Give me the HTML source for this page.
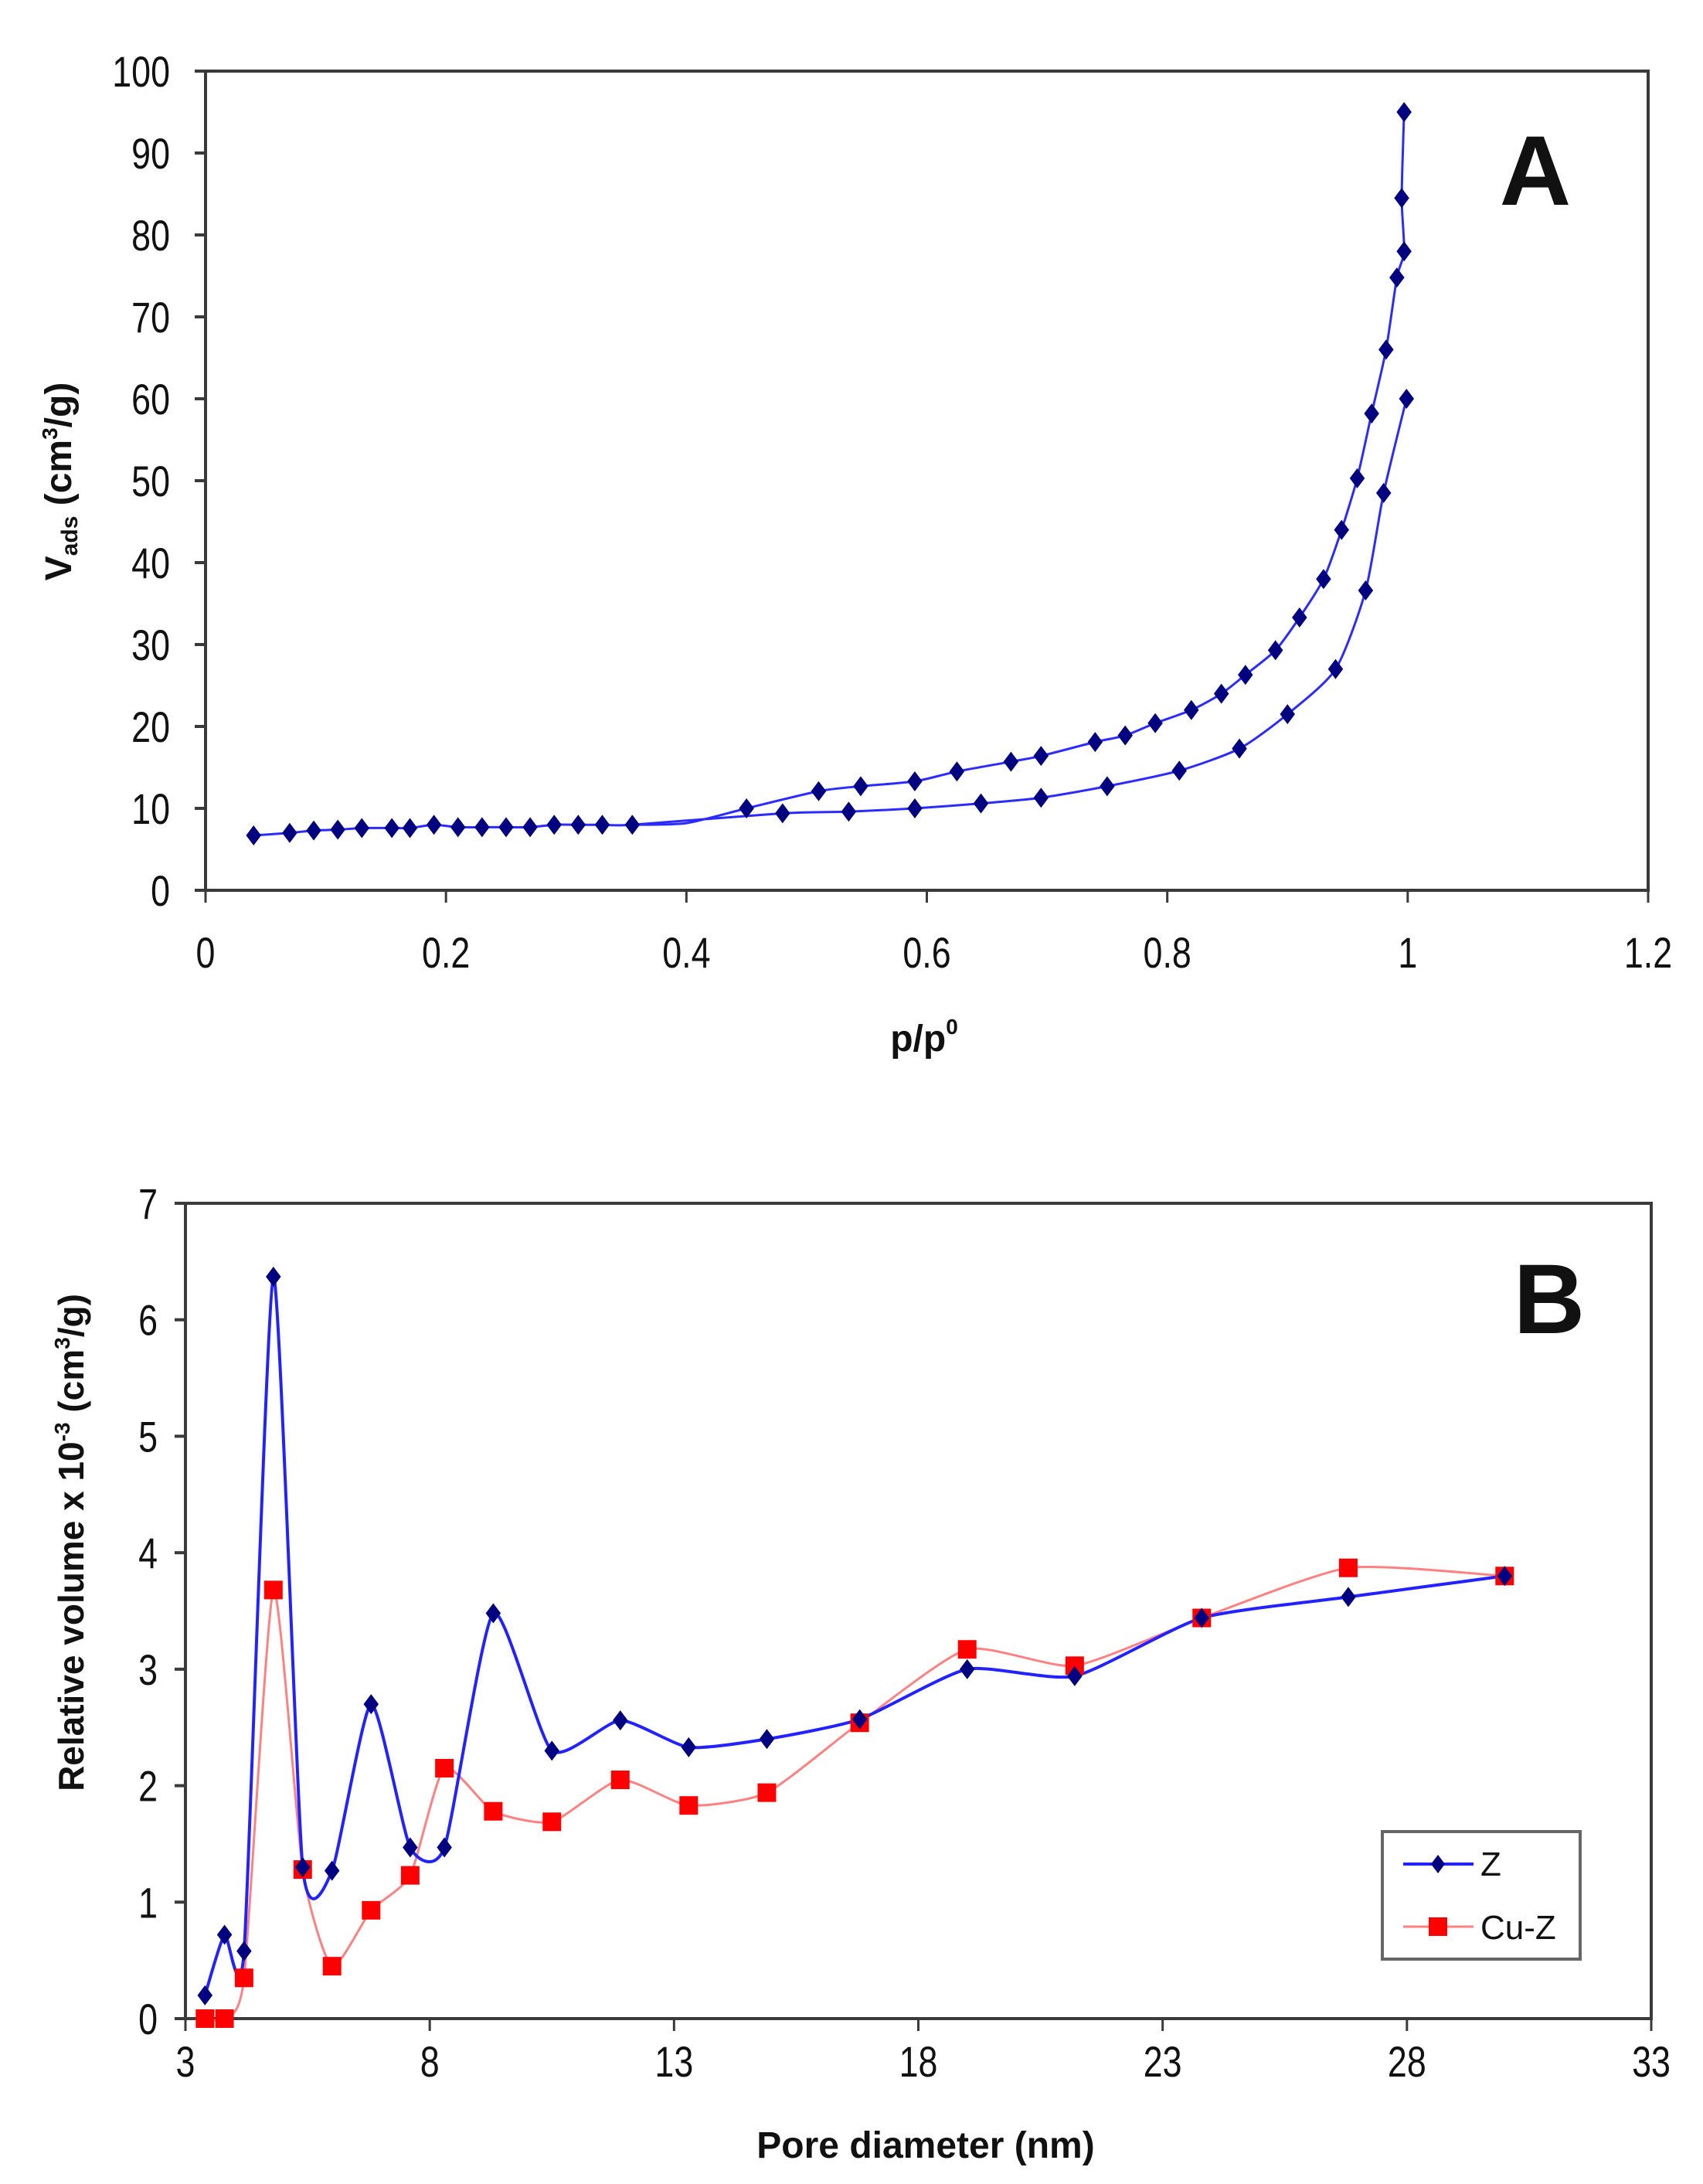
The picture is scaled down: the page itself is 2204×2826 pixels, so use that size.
<!DOCTYPE html>
<html><head><meta charset="utf-8">
<style>
html,body{margin:0;padding:0;background:#fff;}
svg{display:block;}
text{font-family:"Liberation Sans",sans-serif;fill:#111;}
</style></head>
<body>
<svg id="svg" width="2204" height="2826" viewBox="0 0 2204 2826" xmlns="http://www.w3.org/2000/svg">
<rect width="2204" height="2826" fill="#fff"/>
<g id="chartA"></g>
<g id="chartB"></g>
</svg>
<script>
// ---- Chart A data ----
const adsX = [0.04,0.07,0.09,0.11,0.13,0.155,0.17,0.19,0.21,0.23,0.25,0.27,0.29,0.31,0.33,0.355,0.48,0.535,0.59,0.645,0.695,0.75,0.81,0.86,0.90,0.94,0.965,0.98,0.999];
const adsY = [6.7,7.0,7.3,7.4,7.6,7.6,7.6,8.0,7.7,7.7,7.7,7.7,8.0,8.0,8.0,8.0,9.4,9.6,10.0,10.6,11.3,12.7,14.6,17.3,21.5,27.0,36.6,48.5,60.0];
const desX = [0.997,0.995,0.997,0.991,0.982,0.97,0.958,0.945,0.93,0.91,0.89,0.865,0.845,0.82,0.79,0.765,0.74,0.695,0.67,0.625,0.59,0.545,0.51,0.45];
const desY = [95,84.5,78,74.8,66,58.2,50.3,44,38,33.3,29.3,26.3,24,22,20.4,18.9,18.1,16.4,15.7,14.5,13.3,12.7,12.1,10.0];
const aXTicks = ["0","0.2","0.4","0.6","0.8","1","1.2"];
const aYTicks = ["0","10","20","30","40","50","60","70","80","90","100"];
// ---- Chart B data ----
const poreX = [3.4,3.8,4.2,4.8,5.4,6.0,6.8,7.6,8.3,9.3,10.5,11.9,13.3,14.9,16.8,19.0,21.2,23.8,26.8,30.0];
const zVals = [0.2,0.72,0.58,6.37,1.3,1.27,2.7,1.47,1.47,3.48,2.3,2.56,2.33,2.4,2.57,3.0,2.94,3.44,3.62,3.8];
const cuVals = [0,0,0.35,3.68,1.28,0.45,0.93,1.23,2.15,1.78,1.69,2.05,1.83,1.94,2.54,3.17,3.03,3.44,3.87,3.8];
const bXTicks = [3,8,13,18,23,28,33];
const bYTicks = [0,1,2,3,4,5,6,7];

const NS="http://www.w3.org/2000/svg";
function mk(parent,tag,attrs,txt){const e=document.createElementNS(NS,tag);for(const k in attrs)e.setAttribute(k,attrs[k]);if(txt!==undefined)e.textContent=txt;parent.appendChild(e);return e;}
function smooth(pts,ten){const t=(ten===undefined?0.5:ten)/3;let d="M"+pts[0][0]+","+pts[0][1];for(let i=0;i<pts.length-1;i++){const p0=pts[Math.max(0,i-1)],p1=pts[i],p2=pts[i+1],p3=pts[Math.min(pts.length-1,i+2)];d+=" C"+(p1[0]+(p2[0]-p0[0])*t)+","+(p1[1]+(p2[1]-p0[1])*t)+" "+(p2[0]-(p3[0]-p1[0])*t)+","+(p2[1]-(p3[1]-p1[1])*t)+" "+p2[0]+","+p2[1];}return d;}
function narrowText(g,x,y,s,size,anchor,bold){const t=mk(g,"text",{transform:"translate("+x+","+y+") scale(0.8,1)","font-size":size,"text-anchor":anchor,"font-weight":bold?"bold":"normal"},s);return t;}
function diamond(g,x,y,r){return mk(g,"path",{d:"M"+x+","+(y-r)+" L"+(x+r*0.75)+","+y+" L"+x+","+(y+r)+" L"+(x-r*0.75)+","+y+"Z",fill:"#000080"});}

// ---- Chart A ----
(function(){
const g=document.getElementById("chartA");
const L=266,R=2133,T=92,B=1152;
const sx=v=>L+(v-0)/(1.2)*(R-L), sy=v=>B-v/100*(B-T);
const frame=mk(g,"rect",{x:L,y:T,width:R-L,height:B-T,fill:"none",stroke:"#3a3a3a","stroke-width":4});


aYTicks.forEach(s=>{const v=+s;const y=sy(v);mk(g,"line",{x1:L-14,x2:L,y1:y,y2:y,stroke:"#3a3a3a","stroke-width":4});
 const t=narrowText(g,220,y+20,s,56,"end");
 
 });
aXTicks.forEach(s=>{const v=+s;const x=sx(v);mk(g,"line",{x1:x,x2:x,y1:B,y2:B+16,stroke:"#3a3a3a","stroke-width":3});
 const t=narrowText(g,x,1252,s,56,"middle");
 
 });
const ads=adsX.map((x,i)=>[sx(x),sy(adsY[i])]);
const des=desX.map((x,i)=>[sx(x),sy(desY[i])]);
const join=[...des,[sx(0.4),sy(8.2)],[sx(0.355),sy(8.0)]];
const l1=mk(g,"path",{d:smooth(ads,0.35),fill:"none",stroke:"#2b2bff","stroke-width":3});


const l2=mk(g,"path",{d:smooth(join,0.35),fill:"none",stroke:"#2b2bff","stroke-width":3});


ads.forEach(p=>{const m=diamond(g,p[0],p[1],13);});
des.forEach(p=>{const m=diamond(g,p[0],p[1],13);});
const yt=mk(g,"text",{transform:"translate(92,623) rotate(-90)","font-size":48,"font-weight":"bold","text-anchor":"middle"});


yt.innerHTML='V<tspan font-size="30" dy="8">ads</tspan><tspan dy="-8"> (cm</tspan><tspan font-size="28" dy="-18">3</tspan><tspan dy="18">/g)</tspan>';
const xt=mk(g,"text",{x:1196,y:1360,"font-size":48,"font-weight":"bold","text-anchor":"middle"});


xt.innerHTML='p/p<tspan font-size="28" dy="-22">0</tspan>';
const lab=mk(g,"text",{x:1987,y:265,"font-size":128,"font-weight":"bold","text-anchor":"middle"},"A");


})();

// ---- Chart B ----
(function(){
const g=document.getElementById("chartB");
const L=240,R=2137,T=1557,B=2612;
const sx=v=>L+(v-3)/30*(R-L), sy=v=>B-v/7*(B-T);
const frame=mk(g,"rect",{x:L,y:T,width:R-L,height:B-T,fill:"none",stroke:"#3a3a3a","stroke-width":4});


bYTicks.forEach(v=>{const y=sy(v);mk(g,"line",{x1:L-14,x2:L,y1:y,y2:y,stroke:"#3a3a3a","stroke-width":4});
 const t=narrowText(g,204,y+20,String(v),56,"end");
 
 });
bXTicks.forEach(v=>{const x=sx(v);mk(g,"line",{x1:x,x2:x,y1:B,y2:B+16,stroke:"#3a3a3a","stroke-width":3});
 const t=narrowText(g,x,2687,String(v),56,"middle");
 
 });
const cu=poreX.map((x,i)=>[sx(x),sy(cuVals[i])]);
const z=poreX.map((x,i)=>[sx(x),sy(zVals[i])]);
const lc=mk(g,"path",{d:smooth(cu,0.3),fill:"none",stroke:"#ff8080","stroke-width":3});


const lz=mk(g,"path",{d:smooth(z,0.3),fill:"none",stroke:"#2222ff","stroke-width":4});


cu.forEach(p=>{const m=mk(g,"rect",{x:p[0]-12,y:p[1]-12,width:24,height:24,fill:"#ff0000"});});
z.forEach(p=>{const m=diamond(g,p[0],p[1],13);});
// legend
const lg=mk(g,"g",{});


mk(lg,"rect",{x:1789,y:2370,width:256,height:165,fill:"#fff",stroke:"#666","stroke-width":4});
mk(lg,"line",{x1:1816,x2:1907,y1:2412,y2:2412,stroke:"#2222ff","stroke-width":4});
diamond(lg,1861,2412,12);
const e1=mk(lg,"text",{x:1916,y:2427,"font-size":44},"Z");


mk(lg,"line",{x1:1816,x2:1907,y1:2493,y2:2493,stroke:"#ff8080","stroke-width":3});
mk(lg,"rect",{x:1849,y:2481,width:24,height:24,fill:"#ff0000"});
const e2=mk(lg,"text",{x:1916,y:2509,"font-size":44},"Cu-Z");


const yt=mk(g,"text",{transform:"translate(108,1996) rotate(-90)","font-size":46,"font-weight":"bold","text-anchor":"middle"});


yt.innerHTML='Relative volume x 10<tspan font-size="28" dy="-18">-3</tspan><tspan dy="18"> (cm</tspan><tspan font-size="28" dy="-18">3</tspan><tspan dy="18">/g)</tspan>';
const xt=mk(g,"text",{x:1198,y:2792,"font-size":48,"font-weight":"bold","text-anchor":"middle"},"Pore diameter (nm)");


const lab=mk(g,"text",{x:2005,y:1725,"font-size":128,"font-weight":"bold","text-anchor":"middle"},"B");


})();
</script>
</body></html>
